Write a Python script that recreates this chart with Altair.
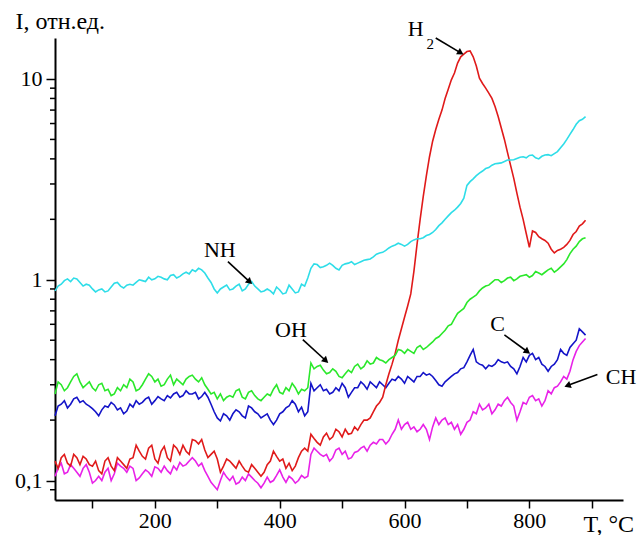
import altair as alt
import pandas as pd

# temperatures of the main readings and of the in-between readings
T = [40, 50, 60, 70, 80, 90, 100, 110, 120, 130, 140, 150, 160, 170, 180, 190,
     200, 210, 220, 230, 240, 250, 260, 270, 280, 290, 300, 310, 320, 330, 340,
     350, 360, 370, 380, 390, 400, 410, 420, 430, 440, 450, 460, 470, 480, 490,
     500, 510, 520, 530, 540, 550, 560, 570, 580, 590, 600, 610, 620, 630, 640,
     650, 660, 670, 680, 690, 700, 710, 720, 730, 740, 750, 760, 770, 780, 790,
     800, 810, 820, 830, 840, 850, 860, 870, 880, 890]
T_mid = [45, 55, 65, 75, 85, 95, 105, 115, 125, 135, 145, 155, 165, 175, 185, 195,
         205, 215, 225, 235, 245, 255, 265, 275, 285, 295, 305, 315, 325, 335, 345,
         355, 365, 375, 385, 395, 405, 415, 425, 435, 445, 455, 465, 475, 485, 495,
         505, 515, 525, 535, 545, 555, 565, 575, 585, 595, 605, 615, 625, 635, 645,
         655, 665, 675, 685, 695, 705, 715, 725, 735, 745, 755, 765, 775, 785, 795,
         805, 815, 825, 835, 845, 855, 865, 875, 885]

NH = [0.88, 0.95, 1.01, 1.02, 0.97, 0.95, 0.90, 0.89, 0.87, 0.92, 0.97, 0.91, 0.95, 0.97, 0.99, 1.03,
      1.01, 1.03, 1.00, 1.06, 1.04, 1.09, 1.12, 1.14, 1.08, 0.97, 0.86, 0.92, 0.89, 0.93, 0.88,
      0.95, 0.93, 0.87, 0.90, 0.85, 0.89, 0.86, 0.90, 0.87, 0.93, 1.14, 1.19, 1.16, 1.21, 1.14,
      1.18, 1.21, 1.19, 1.23, 1.26, 1.30, 1.36, 1.40, 1.47, 1.52, 1.47, 1.55, 1.60, 1.62, 1.68,
      1.78, 1.92, 2.08, 2.22, 2.40, 2.95, 3.18, 3.40, 3.58, 3.72, 3.80, 3.88, 3.95, 4.02, 4.10,
      4.16, 4.05, 4.12, 4.20, 4.25, 4.55, 5.00, 5.60, 6.20, 6.50]
NH_mid = [0.93, 0.99, 0.98, 1.01, 0.93, 0.94, 0.87, 0.90, 0.88, 0.96, 0.93, 0.94, 0.94, 1.00, 0.98, 1.00,
          1.04, 1.01, 1.05, 1.02, 1.07, 1.07, 1.10, 1.12, 1.02, 0.90, 0.90, 0.94, 0.90, 0.95, 0.90,
          0.98, 0.90, 0.88, 0.88, 0.92, 0.85, 0.94, 0.86, 0.95, 1.02, 1.20, 1.15, 1.18, 1.18, 1.12,
          1.20, 1.23, 1.21, 1.25, 1.27, 1.34, 1.37, 1.44, 1.49, 1.50, 1.50, 1.58, 1.60, 1.66, 1.72,
          1.86, 2.00, 2.16, 2.30, 2.55, 3.08, 3.30, 3.48, 3.62, 3.78, 3.82, 3.95, 3.96, 4.08, 4.05,
          4.18, 4.00, 4.18, 4.15, 4.35, 4.75, 5.30, 5.95, 6.30]

H2 = [0.125, 0.13, 0.122, 0.135, 0.12, 0.128, 0.118, 0.112, 0.125, 0.118, 0.13, 0.12, 0.128, 0.15, 0.132, 0.145,
      0.128, 0.14, 0.13, 0.15, 0.135, 0.14, 0.16, 0.152, 0.142, 0.135, 0.128, 0.118, 0.125, 0.115, 0.118,
      0.11, 0.115, 0.105, 0.12, 0.14, 0.125, 0.115, 0.112, 0.13, 0.145, 0.17, 0.155, 0.165, 0.16, 0.18,
      0.165, 0.17, 0.185, 0.19, 0.2, 0.22, 0.245, 0.3, 0.38, 0.5, 0.65, 0.85, 1.5, 2.6, 4.1,
      5.6, 7.0, 8.9, 10.7, 12.9, 13.7, 12.9, 10.1, 9.0, 8.0, 6.5, 5.0, 3.7, 2.7, 2.0,
      1.45, 1.72, 1.6, 1.52, 1.36, 1.42, 1.5, 1.68, 1.85, 1.98]
H2_mid = [0.115, 0.135, 0.118, 0.13, 0.132, 0.12, 0.125, 0.108, 0.13, 0.112, 0.125, 0.115, 0.13, 0.14, 0.128, 0.15,
          0.122, 0.148, 0.125, 0.145, 0.15, 0.135, 0.158, 0.16, 0.13, 0.14, 0.11, 0.128, 0.12, 0.125, 0.112,
          0.12, 0.11, 0.11, 0.125, 0.132, 0.128, 0.122, 0.118, 0.14, 0.14, 0.162, 0.15, 0.172, 0.165, 0.175,
          0.18, 0.172, 0.178, 0.2, 0.205, 0.235, 0.26, 0.34, 0.43, 0.57, 0.74, 1.1, 2.0, 3.3, 4.9,
          6.3, 8.0, 9.9, 12.0, 13.3, 13.8, 11.6, 9.5, 8.5, 7.3, 5.7, 4.3, 3.2, 2.3, 1.7,
          1.75, 1.64, 1.57, 1.42, 1.4, 1.45, 1.57, 1.74, 1.9]

OH = [0.27, 0.30, 0.29, 0.33, 0.31, 0.30, 0.29, 0.30, 0.28, 0.265, 0.29, 0.30, 0.32, 0.28, 0.30, 0.34,
      0.31, 0.295, 0.32, 0.30, 0.31, 0.32, 0.335, 0.31, 0.30, 0.27, 0.255, 0.25, 0.265, 0.28, 0.26,
      0.275, 0.265, 0.25, 0.27, 0.285, 0.275, 0.29, 0.305, 0.27, 0.28, 0.385, 0.37, 0.355, 0.345, 0.35,
      0.325, 0.355, 0.37, 0.36, 0.395, 0.385, 0.40, 0.385, 0.41, 0.45, 0.43, 0.44, 0.46, 0.45, 0.475,
      0.51, 0.54, 0.59, 0.64, 0.70, 0.77, 0.82, 0.88, 0.93, 0.97, 1.0, 0.99, 1.03, 1.01, 1.05,
      1.03, 1.10, 1.06, 1.12, 1.09, 1.16, 1.26, 1.42, 1.55, 1.62]
OH_mid = [0.31, 0.28, 0.31, 0.34, 0.29, 0.31, 0.28, 0.305, 0.285, 0.27, 0.28, 0.29, 0.31, 0.285, 0.32, 0.33,
          0.32, 0.30, 0.335, 0.32, 0.30, 0.33, 0.32, 0.325, 0.285, 0.275, 0.27, 0.26, 0.26, 0.285, 0.255,
          0.28, 0.255, 0.26, 0.265, 0.30, 0.27, 0.28, 0.29, 0.285, 0.29, 0.36, 0.375, 0.34, 0.36, 0.33,
          0.34, 0.345, 0.38, 0.37, 0.38, 0.41, 0.395, 0.40, 0.42, 0.445, 0.45, 0.43, 0.47, 0.46, 0.49,
          0.52, 0.56, 0.60, 0.68, 0.72, 0.80, 0.84, 0.91, 0.94, 1.00, 0.97, 1.02, 0.99, 1.04, 1.06,
          1.05, 1.08, 1.09, 1.14, 1.12, 1.20, 1.35, 1.47, 1.60]

C = [0.21, 0.24, 0.23, 0.255, 0.245, 0.24, 0.228, 0.21, 0.235, 0.245, 0.225, 0.215, 0.24, 0.25, 0.245, 0.26,
     0.25, 0.255, 0.265, 0.27, 0.26, 0.28, 0.27, 0.255, 0.275, 0.24, 0.205, 0.215, 0.2, 0.225, 0.21,
     0.235, 0.22, 0.205, 0.215, 0.19, 0.215, 0.23, 0.25, 0.22, 0.21, 0.305, 0.29, 0.28, 0.27, 0.29,
     0.305, 0.26, 0.29, 0.31, 0.285, 0.3, 0.31, 0.29, 0.32, 0.33, 0.305, 0.32, 0.33, 0.345, 0.34,
     0.315, 0.295, 0.32, 0.34, 0.36, 0.39, 0.45, 0.38, 0.36, 0.37, 0.40, 0.385, 0.37, 0.34, 0.41,
     0.42, 0.40, 0.38, 0.35, 0.38, 0.45, 0.42, 0.48, 0.57, 0.53]
C_mid = [0.235, 0.25, 0.24, 0.26, 0.25, 0.235, 0.22, 0.225, 0.232, 0.238, 0.23, 0.222, 0.232, 0.24, 0.255, 0.24,
         0.262, 0.25, 0.258, 0.275, 0.265, 0.27, 0.275, 0.262, 0.26, 0.22, 0.198, 0.21, 0.215, 0.22, 0.205,
         0.23, 0.215, 0.21, 0.2, 0.2, 0.22, 0.235, 0.24, 0.232, 0.22, 0.28, 0.30, 0.285, 0.275, 0.28,
         0.29, 0.275, 0.29, 0.30, 0.31, 0.29, 0.30, 0.305, 0.315, 0.32, 0.33, 0.31, 0.33, 0.335, 0.33,
         0.30, 0.31, 0.33, 0.345, 0.365, 0.42, 0.39, 0.375, 0.375, 0.38, 0.39, 0.39, 0.36, 0.37, 0.39,
         0.43, 0.41, 0.37, 0.37, 0.40, 0.43, 0.46, 0.50, 0.55]

CH = [0.105, 0.122, 0.11, 0.115, 0.105, 0.12, 0.097, 0.105, 0.11, 0.1, 0.122, 0.115, 0.118, 0.1, 0.108, 0.11,
      0.117, 0.11, 0.112, 0.118, 0.123, 0.12, 0.13, 0.118, 0.112, 0.098, 0.09, 0.11, 0.1, 0.096, 0.104,
      0.108, 0.1, 0.092, 0.104, 0.1, 0.113, 0.098, 0.102, 0.1, 0.103, 0.135, 0.14, 0.132, 0.125, 0.142,
      0.135, 0.128, 0.138, 0.145, 0.14, 0.155, 0.16, 0.152, 0.17, 0.2, 0.19, 0.18, 0.175, 0.19, 0.16,
      0.205, 0.2, 0.19, 0.18, 0.17, 0.195, 0.22, 0.24, 0.23, 0.215, 0.24, 0.25, 0.245, 0.2, 0.245,
      0.26, 0.25, 0.235, 0.28, 0.29, 0.31, 0.32, 0.40, 0.47, 0.51]
CH_mid = [0.115, 0.108, 0.12, 0.11, 0.115, 0.11, 0.1, 0.1, 0.115, 0.108, 0.118, 0.11, 0.115, 0.103, 0.113, 0.105,
          0.115, 0.118, 0.108, 0.113, 0.118, 0.125, 0.125, 0.122, 0.105, 0.094, 0.1, 0.104, 0.105, 0.098, 0.1,
          0.104, 0.097, 0.097, 0.098, 0.106, 0.104, 0.105, 0.097, 0.106, 0.105, 0.145, 0.135, 0.135, 0.13, 0.145,
          0.14, 0.13, 0.14, 0.148, 0.15, 0.152, 0.16, 0.158, 0.18, 0.18, 0.195, 0.185, 0.18, 0.18, 0.185,
          0.19, 0.205, 0.195, 0.19, 0.18, 0.2, 0.215, 0.225, 0.24, 0.225, 0.235, 0.26, 0.235, 0.22, 0.24,
          0.265, 0.255, 0.25, 0.27, 0.295, 0.33, 0.35, 0.44, 0.49]

series_names = ["NH", "OH", "C", "H2", "CH"]
series_values = [NH, OH, C, H2, CH]
series_mid_values = [NH_mid, OH_mid, C_mid, H2_mid, CH_mid]
series_colors = ["#2EDDE8", "#2BE82B", "#1414C8", "#E01A1A", "#E822E8"]

# annotation labels (data coordinates)
ann_text = ["NH", "OH", "C", "CH", "H"]
ann_T = [304, 418, 749, 947, 618]
ann_v = [1.41, 0.564, 0.604, 0.329, 17.7]
sub_text = ["2"]
sub_T = [641]
sub_v = [15.0]

arrow_T1 = [317, 437, 760, 909, 650]
arrow_v1 = [1.23, 0.503, 0.532, 0.337, 16.0]
arrow_T2 = [352, 474, 797, 861, 690]
arrow_v2 = [0.977, 0.395, 0.438, 0.297, 13.5]
arrow_angle = [132, 132, 126, 250, 121]

# axis ticks
x_ticks = [100, 200, 300, 400, 500, 600, 700, 800, 900]
y_major = [0.1, 1, 10]
y_minor = [0.09, 0.2, 0.3, 0.4, 0.5, 0.6, 0.7, 0.8, 0.9,
           2, 3, 4, 5, 6, 7, 8, 9]

rows = []
for name, vals, mids in zip(series_names, series_values, series_mid_values):
    for t, v in zip(T, vals):
        rows.append({"T": t, "I": v, "s": name})
    for t, v in zip(T_mid, mids):
        rows.append({"T": t, "I": v, "s": name})
df = pd.DataFrame(rows).sort_values(["s", "T"]).reset_index(drop=True)

ann_df = pd.DataFrame({"label": ann_text, "T": ann_T, "v": ann_v})
sub_df = pd.DataFrame({"label": sub_text, "T": sub_T, "v": sub_v})
arr_df = pd.DataFrame({"T1": arrow_T1, "v1": arrow_v1, "T2": arrow_T2,
                       "v2": arrow_v2, "ang": arrow_angle})
minor_df = pd.DataFrame({"v": y_minor})

FONT = "Liberation Serif"

xscale = alt.Scale(domain=[40, 950], nice=False, zero=False)
yscale = alt.Scale(type="log", domain=[0.08, 16], nice=False)

xaxis = alt.Axis(values=x_ticks,
                 labelExpr="datum.value % 200 == 0 ? datum.value : ''",
                 grid=False, tickSize=8, tickWidth=1.5, tickColor="black",
                 domainColor="black", domainWidth=2,
                 labelFont=FONT, labelFontSize=22, labelColor="black",
                 labelPadding=2, labelFlush=False, labelOverlap=False,
                 title="T, °C", titleFont=FONT, titleFontSize=24,
                 titleFontWeight="normal", titleColor="black",
                 titleAnchor="start", titleAlign="left", titleBaseline="middle",
                 titleX=528, titleY=24)

yaxis = alt.Axis(values=y_major,
                 labelExpr="datum.value == 0.1 ? '0,1' : (datum.value == 1 ? '1' : '10')",
                 grid=False, tickSize=9, tickWidth=1.5, tickColor="black",
                 domainColor="black", domainWidth=2,
                 labelFont=FONT, labelFontSize=22, labelColor="black",
                 labelPadding=4, labelFlush=False, labelOverlap=False,
                 title="I, отн.ед.", titleFont=FONT, titleFontSize=24,
                 titleFontWeight="normal", titleColor="black", titleAngle=0,
                 titleAlign="left", titleBaseline="middle",
                 titleX=-40, titleY=-17)

lines = alt.Chart(df).mark_line(strokeWidth=1.6, clip=False).encode(
    x=alt.X("T:Q", scale=xscale, axis=xaxis),
    y=alt.Y("I:Q", scale=yscale, axis=yaxis),
    color=alt.Color("s:N", scale=alt.Scale(domain=series_names, range=series_colors), legend=None),
    detail="s:N",
    order=alt.Order("T:Q"),
)

# minor ticks of the logarithmic axis, placed through the y scale
minor = alt.Chart(minor_df).mark_rule(color="black", strokeWidth=1.5, clip=False).encode(
    x=alt.value(-5),
    x2=alt.value(0),
    y=alt.Y("v:Q", scale=yscale),
)

labels = alt.Chart(ann_df).mark_text(font=FONT, fontSize=22, color="black",
                                     align="center", baseline="middle").encode(
    x=alt.X("T:Q", scale=xscale), y=alt.Y("v:Q", scale=yscale), text="label:N")

subs = alt.Chart(sub_df).mark_text(font=FONT, fontSize=15, color="black",
                                   align="center", baseline="middle").encode(
    x=alt.X("T:Q", scale=xscale), y=alt.Y("v:Q", scale=yscale), text="label:N")

arrows = alt.Chart(arr_df).mark_rule(color="black", strokeWidth=1.6).encode(
    x=alt.X("T1:Q", scale=xscale), y=alt.Y("v1:Q", scale=yscale),
    x2="T2:Q", y2="v2:Q")

heads = alt.Chart(arr_df).mark_point(shape="triangle-up", filled=True, color="black",
                                     size=55, opacity=1).encode(
    x=alt.X("T2:Q", scale=xscale), y=alt.Y("v2:Q", scale=yscale),
    angle=alt.Angle("ang:Q", scale=None))

chart = alt.layer(lines, minor, arrows, heads, labels, subs).properties(
    width=568, height=462,
    padding={"left": 55, "top": 38, "right": 17, "bottom": 35},
    autosize=alt.AutoSizeParams(type="none"),
    background="white",
).configure_view(stroke=None)

chart.save("out.html", embed_options={"renderer": "svg", "actions": False})
